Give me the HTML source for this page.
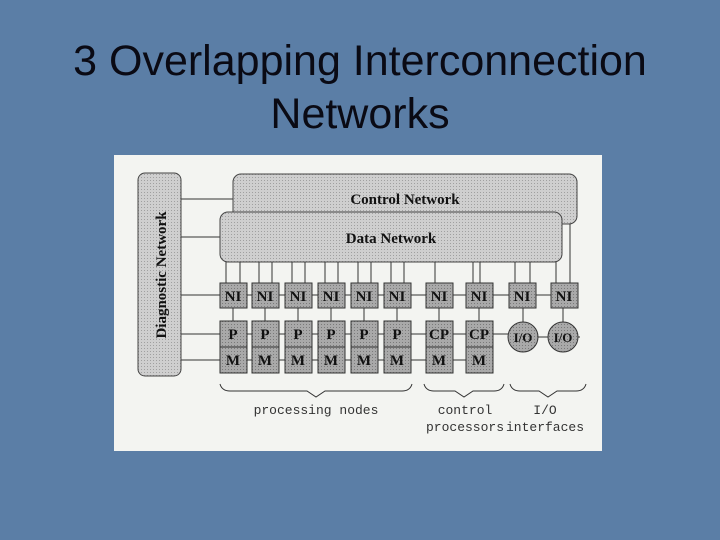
<!DOCTYPE html>
<html><head><style>
body{margin:0;width:720px;height:540px;background:#5b7ea6;overflow:hidden;font-family:"Liberation Sans",sans-serif;}
.t{position:absolute;left:0;width:720px;text-align:center;font-size:43px;color:#0a0a14;line-height:52px;}
</style></head><body>
<div class="t" style="top:35px">3 Overlapping Interconnection</div>
<div class="t" style="top:88px">Networks</div>
<svg style="position:absolute;left:0;top:0" width="720" height="540" font-family="Liberation Serif" font-weight="bold">
<defs><pattern id="d" width="3" height="3" patternUnits="userSpaceOnUse"><rect width="3" height="3" fill="#cfcfcf"/><rect width="1" height="1" fill="#a0a0a0"/></pattern>
<pattern id="b" width="3" height="3" patternUnits="userSpaceOnUse"><rect width="3" height="3" fill="#a9a9a9"/><rect width="1" height="1" fill="#7a7a7a"/></pattern></defs>
<rect x="114" y="155" width="488" height="296" fill="#f3f4f1"/>
<g stroke="#333" stroke-width="1">
<line x1="181" y1="199" x2="233" y2="199"/><line x1="181" y1="237" x2="220" y2="237"/>
<line x1="181" y1="295" x2="565" y2="295"/><line x1="181" y1="334" x2="510" y2="334"/><line x1="181" y1="360" x2="493" y2="360"/>
<line x1="510" y1="337" x2="580" y2="337"/>
<line x1="570" y1="220" x2="570" y2="283"/>
</g>
<rect x="138" y="173" width="43" height="203" rx="7" fill="url(#d)" stroke="#444"/>
<text transform="translate(166,275) rotate(-90)" text-anchor="middle" font-size="15" fill="#111">Diagnostic Network</text>
<rect x="233" y="174" width="344" height="50" rx="8" fill="url(#d)" stroke="#444"/>
<text x="405" y="204" text-anchor="middle" font-size="15" fill="#111">Control Network</text>
<rect x="220" y="212" width="342" height="50" rx="8" fill="url(#d)" stroke="#444"/>
<text x="391" y="243" text-anchor="middle" font-size="15" fill="#111">Data Network</text>
<g stroke="#333">
<path d="M226 262V283M240 262V283M259 262V283M272 262V283M292 262V283M305 262V283M325 262V283M338 262V283M358 262V283M371 262V283M391 262V283M404 262V283M435 262V283M473 262V283M480 262V283M515 262V283M530 262V283M556 262V283"/>
</g>
<g font-size="15" text-anchor="middle" fill="#111">
<g stroke="#333" fill="url(#b)">
<rect x="220" y="283" width="27" height="25"/><rect x="252" y="283" width="27" height="25"/><rect x="285" y="283" width="27" height="25"/><rect x="318" y="283" width="27" height="25"/><rect x="351" y="283" width="27" height="25"/><rect x="384" y="283" width="27" height="25"/><rect x="426" y="283" width="27" height="25"/><rect x="466" y="283" width="27" height="25"/><rect x="509" y="283" width="27" height="25"/><rect x="551" y="283" width="27" height="25"/>
<rect x="220" y="321" width="27" height="52"/><rect x="252" y="321" width="27" height="52"/><rect x="285" y="321" width="27" height="52"/><rect x="318" y="321" width="27" height="52"/><rect x="351" y="321" width="27" height="52"/><rect x="384" y="321" width="27" height="52"/><rect x="426" y="321" width="27" height="52"/><rect x="466" y="321" width="27" height="52"/>
<circle cx="523" cy="337" r="15"/><circle cx="563" cy="337" r="15"/>
<path d="M220 347h27M252 347h27M285 347h27M318 347h27M351 347h27M384 347h27M426 347h27M466 347h27M233 308v13M265 308v13M298 308v13M331 308v13M364 308v13M397 308v13M439 308v13M479 308v13M523 308v14M563 308v14" fill="none"/>
</g>
<text x="233" y="301">NI</text><text x="265" y="301">NI</text><text x="298" y="301">NI</text><text x="331" y="301">NI</text><text x="364" y="301">NI</text><text x="397" y="301">NI</text><text x="439" y="301">NI</text><text x="479" y="301">NI</text><text x="522" y="301">NI</text><text x="564" y="301">NI</text>
<text x="233" y="339">P</text><text x="265" y="339">P</text><text x="298" y="339">P</text><text x="331" y="339">P</text><text x="364" y="339">P</text><text x="397" y="339">P</text><text x="439" y="339">CP</text><text x="479" y="339">CP</text>
<text x="233" y="365">M</text><text x="265" y="365">M</text><text x="298" y="365">M</text><text x="331" y="365">M</text><text x="364" y="365">M</text><text x="397" y="365">M</text><text x="439" y="365">M</text><text x="479" y="365">M</text>
<text x="523" y="342" font-size="13">I/O</text><text x="563" y="342" font-size="13">I/O</text>
</g>
<g fill="none" stroke="#333">
<path d="M220 384q2 7 10 7h77l9 6 9-6h77q8 0 10-7"/>
<path d="M424 384q2 7 10 7h21l9 6 9-6h21q8 0 10-7"/>
<path d="M510 384q2 7 10 7h19l9 6 9-6h19q8 0 10-7"/>
</g>
<g font-family="Liberation Mono" font-weight="normal" font-size="13" fill="#333" text-anchor="middle">
<text x="316" y="414">processing nodes</text>
<text x="465" y="414">control</text><text x="465" y="431">processors</text>
<text x="545" y="414">I/O</text><text x="545" y="431">interfaces</text>
</g>
</svg>
</body></html>
